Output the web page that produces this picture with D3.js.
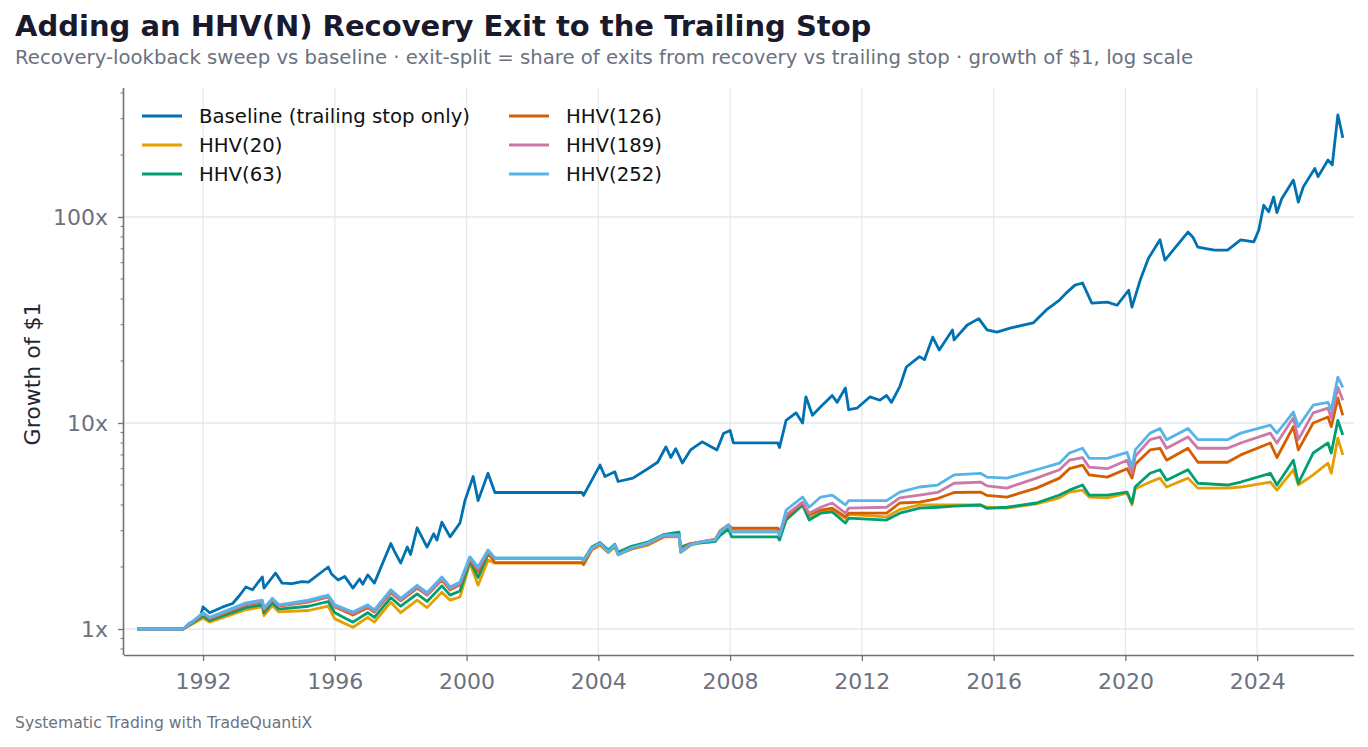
<!DOCTYPE html>
<html lang="en">
  <head>
    <meta charset="UTF-8" />
    <title>Adding an HHV(N) Recovery Exit to the Trailing Stop</title>
    <script src="https://d3js.org/d3.v7.min.js"></script>
    <style>
      html, body { margin: 0; padding: 0; background: #fff; }
      svg { display: block; font-family: "DejaVu Sans", sans-serif; }
    </style>
  </head>
  <body>
    <div id="chart"></div>
    <script>
      // Baseline : dates (années décimales) et croissance de 1 $
      const baseYears = [1990.0, 1991.4, 1991.6, 1991.9, 1992.0, 1992.2, 1992.6, 1992.9, 1993.1, 1993.3, 1993.5, 1993.8, 1993.85, 1994.2, 1994.4, 1994.7, 1995.0, 1995.2, 1995.8, 1995.9, 1996.1, 1996.3, 1996.55, 1996.75, 1996.85, 1997.0, 1997.2, 1997.7, 1997.8, 1998.0, 1998.2, 1998.3, 1998.5, 1998.8, 1999.0, 1999.1, 1999.25, 1999.5, 1999.8, 1999.95, 2000.2, 2000.35, 2000.65, 2000.86, 2003.5, 2003.55, 2004.05, 2004.2, 2004.5, 2004.6, 2005.05, 2005.5, 2005.8, 2006.05, 2006.2, 2006.35, 2006.55, 2006.8, 2007.15, 2007.6, 2007.8, 2008.0, 2008.1, 2009.45, 2009.5, 2009.7, 2010.0, 2010.2, 2010.3, 2010.5, 2010.75, 2011.1, 2011.25, 2011.5, 2011.6, 2011.85, 2012.25, 2012.55, 2012.75, 2012.9, 2013.15, 2013.35, 2013.75, 2013.9, 2014.15, 2014.35, 2014.75, 2014.8, 2015.2, 2015.55, 2015.8, 2016.1, 2016.5, 2017.2, 2017.6, 2018.0, 2018.2, 2018.47, 2018.7, 2018.98, 2019.45, 2019.75, 2020.1, 2020.2, 2020.45, 2020.7, 2021.05, 2021.2, 2021.45, 2021.9, 2022.05, 2022.2, 2022.7, 2023.1, 2023.5, 2023.9, 2024.05, 2024.2, 2024.35, 2024.5, 2024.6, 2024.75, 2025.1, 2025.25, 2025.4, 2025.75, 2025.85, 2026.15, 2026.28, 2026.45, 2026.55, 2026.6];
      const baseline = [1.0, 1.0, 1.07, 1.12, 1.28, 1.2, 1.28, 1.33, 1.45, 1.6, 1.55, 1.79, 1.58, 1.87, 1.67, 1.66, 1.7, 1.69, 2.0, 1.85, 1.73, 1.8, 1.58, 1.75, 1.65, 1.83, 1.67, 2.6, 2.4, 2.09, 2.5, 2.3, 3.1, 2.5, 2.9, 2.7, 3.3, 2.8, 3.27, 4.2, 5.5, 4.2, 5.7, 4.6, 4.6, 4.45, 6.25, 5.5, 5.8, 5.2, 5.4, 6.0, 6.45, 7.65, 6.8, 7.5, 6.4, 7.4, 8.1, 7.4, 8.9, 9.2, 8.0, 8.0, 7.6, 10.3, 11.2, 10.0, 13.4, 10.9, 12.0, 13.6, 12.6, 14.8, 11.6, 11.8, 13.4, 12.9, 13.6, 12.6, 15.0, 18.7, 21.0, 20.3, 26.1, 22.6, 28.3, 25.3, 29.9, 32.1, 28.3, 27.6, 28.9, 30.6, 35.4, 39.5, 42.7, 46.7, 47.8, 38.2, 38.6, 37.3, 44.1, 36.5, 49.4, 63, 77.5, 61.7, 69, 84.5, 79.8, 71.3, 69, 69, 77.5, 75.8, 86.5, 114, 106, 125, 105, 123, 151, 118, 140, 172, 157, 189, 179, 313, 265, 242];

      // Variantes HHV(N) : dates communes
      const hhvYears = [1990.0, 1991.4, 1992.0, 1992.2, 1993.3, 1993.8, 1993.85, 1994.1, 1994.3, 1995.2, 1995.8, 1996.0, 1996.55, 1997.0, 1997.2, 1997.7, 1998.0, 1998.5, 1998.8, 1999.25, 1999.5, 1999.8, 2000.1, 2000.35, 2000.65, 2000.86, 2003.5, 2003.55, 2003.8, 2004.05, 2004.3, 2004.5, 2004.6, 2005.0, 2005.5, 2006.0, 2006.45, 2006.5, 2006.8, 2007.1, 2007.55, 2007.7, 2007.95, 2008.05, 2009.45, 2009.5, 2009.7, 2010.2, 2010.4, 2010.75, 2011.1, 2011.5, 2011.6, 2012.75, 2013.15, 2013.75, 2014.3, 2014.8, 2015.6, 2015.8, 2016.4, 2017.3, 2018.0, 2018.3, 2018.7, 2018.9, 2019.45, 2020.05, 2020.2, 2020.3, 2020.75, 2021.05, 2021.25, 2021.9, 2022.2, 2023.1, 2023.5, 2024.4, 2024.6, 2025.1, 2025.25, 2025.7, 2026.15, 2026.25, 2026.45, 2026.6];
      const hhv20 = [1.0, 1.0, 1.13, 1.08, 1.24, 1.28, 1.16, 1.3, 1.21, 1.23, 1.29, 1.12, 1.02, 1.14, 1.08, 1.35, 1.2, 1.38, 1.27, 1.51, 1.38, 1.43, 2.09, 1.63, 2.16, 2.09, 2.09, 2.05, 2.42, 2.55, 2.35, 2.5, 2.3, 2.44, 2.55, 2.8, 2.8, 2.35, 2.55, 2.62, 2.68, 2.95, 3.15, 3.05, 3.05, 2.9, 3.45, 4.0, 3.5, 3.72, 3.78, 3.45, 3.6, 3.5, 3.8, 4.0, 4.0, 4.0, 4.0, 3.9, 3.86, 4.05, 4.33, 4.62, 4.72, 4.37, 4.33, 4.57, 4.0, 4.8, 5.17, 5.4, 4.89, 5.4, 4.83, 4.83, 4.89, 5.17, 4.72, 5.93, 5.0, 5.6, 6.38, 5.7, 8.45, 7.0];
      const hhv63 = [1.0, 1.0, 1.16, 1.1, 1.27, 1.31, 1.2, 1.34, 1.25, 1.29, 1.36, 1.2, 1.08, 1.2, 1.14, 1.42, 1.29, 1.48, 1.36, 1.62, 1.46, 1.53, 2.14, 1.78, 2.3, 2.21, 2.21, 2.16, 2.5, 2.63, 2.42, 2.58, 2.36, 2.52, 2.64, 2.88, 2.95, 2.5, 2.6, 2.62, 2.66, 2.85, 3.05, 2.8, 2.8, 2.7, 3.38, 4.0, 3.38, 3.65, 3.7, 3.27, 3.45, 3.38, 3.65, 3.86, 3.9, 3.95, 4.0, 3.85, 3.9, 4.09, 4.47, 4.72, 5.0, 4.47, 4.47, 4.62, 4.09, 4.9, 5.7, 5.93, 5.28, 5.93, 5.1, 5.0, 5.17, 5.7, 5.0, 6.6, 5.1, 7.15, 8.0, 7.15, 10.3, 8.75];
      const hhv126 = [1.0, 1.0, 1.18, 1.12, 1.31, 1.35, 1.24, 1.38, 1.29, 1.35, 1.43, 1.28, 1.17, 1.27, 1.21, 1.5, 1.37, 1.58, 1.46, 1.73, 1.55, 1.64, 2.18, 1.9, 2.34, 2.1, 2.1, 2.06, 2.44, 2.58, 2.36, 2.52, 2.3, 2.45, 2.58, 2.82, 2.84, 2.42, 2.6, 2.65, 2.72, 3.0, 3.2, 3.09, 3.09, 2.95, 3.5, 4.09, 3.6, 3.78, 3.86, 3.5, 3.65, 3.65, 4.09, 4.13, 4.3, 4.6, 4.62, 4.45, 4.37, 4.83, 5.4, 6.0, 6.25, 5.6, 5.46, 6.0, 5.4, 6.3, 7.4, 7.54, 6.6, 7.54, 6.45, 6.45, 7.0, 8.0, 6.8, 9.6, 7.4, 10.0, 10.7, 9.6, 13.2, 10.9];
      const hhv189 = [1.0, 1.0, 1.19, 1.13, 1.32, 1.36, 1.25, 1.39, 1.3, 1.36, 1.44, 1.29, 1.19, 1.29, 1.22, 1.52, 1.38, 1.6, 1.47, 1.75, 1.57, 1.66, 2.2, 1.95, 2.38, 2.2, 2.2, 2.14, 2.46, 2.6, 2.37, 2.55, 2.3, 2.47, 2.6, 2.84, 2.85, 2.4, 2.58, 2.65, 2.72, 2.98, 3.2, 2.96, 2.96, 2.85, 3.58, 4.13, 3.65, 3.9, 4.09, 3.65, 3.86, 3.9, 4.33, 4.47, 4.6, 5.1, 5.17, 4.95, 4.83, 5.4, 5.93, 6.6, 6.8, 6.1, 6.0, 6.6, 5.7, 6.9, 8.3, 8.55, 7.54, 8.55, 7.54, 7.54, 8.0, 8.93, 8.0, 10.6, 8.3, 11.2, 11.8, 10.6, 14.9, 12.9];
      const hhv252 = [1.0, 1.0, 1.2, 1.14, 1.34, 1.38, 1.26, 1.41, 1.31, 1.38, 1.46, 1.31, 1.21, 1.31, 1.24, 1.55, 1.41, 1.63, 1.5, 1.79, 1.6, 1.69, 2.24, 2.0, 2.42, 2.21, 2.21, 2.15, 2.47, 2.61, 2.36, 2.56, 2.29, 2.47, 2.61, 2.86, 2.86, 2.36, 2.56, 2.64, 2.7, 2.96, 3.2, 2.96, 2.96, 2.85, 3.78, 4.37, 3.9, 4.37, 4.47, 4.0, 4.2, 4.2, 4.62, 4.89, 5.0, 5.6, 5.7, 5.46, 5.4, 5.93, 6.38, 7.15, 7.54, 6.74, 6.74, 7.2, 6.1, 7.4, 8.93, 9.4, 8.3, 9.4, 8.3, 8.3, 8.93, 9.76, 8.93, 11.3, 9.6, 12.2, 12.6, 11.6, 16.7, 14.9];

      const seriesNames = ["Baseline (trailing stop only)", "HHV(20)", "HHV(63)", "HHV(126)", "HHV(189)", "HHV(252)"];
      const seriesColors = ["#0072B2", "#E69F00", "#009E73", "#D55E00", "#CC79A7", "#56B4E9"];
      const xTickYears = [1992, 1996, 2000, 2004, 2008, 2012, 2016, 2020, 2024];
      const yTickValues = [1, 10, 100];

      const width = 1368;
      const height = 747;
      const plot = { left: 124, right: 1354, top: 88, bottom: 655 };

      const series = [
        { years: baseYears, values: baseline },
        { years: hhvYears, values: hhv20 },
        { years: hhvYears, values: hhv63 },
        { years: hhvYears, values: hhv126 },
        { years: hhvYears, values: hhv189 },
        { years: hhvYears, values: hhv252 },
      ].map((s, i) => ({
        name: seriesNames[i],
        color: seriesColors[i],
        points: s.years.map((yr, j) => [yr, s.values[j]]),
      }));

      const svg = d3
        .select("#chart")
        .append("svg")
        .attr("width", width)
        .attr("height", height);

      const x = d3.scaleLinear().domain([1989.6, 2026.94]).range([plot.left, plot.right]);
      const y = d3.scaleLog().domain([0.748, 422.7]).range([plot.bottom, plot.top]);

      // Grille
      const grid = svg.append("g").attr("stroke", "#e5e7eb").attr("stroke-width", 1.3);
      grid
        .selectAll("line.vx")
        .data(xTickYears)
        .join("line")
        .attr("x1", (d) => x(d))
        .attr("x2", (d) => x(d))
        .attr("y1", plot.top)
        .attr("y2", plot.bottom);
      grid
        .selectAll("line.hy")
        .data(yTickValues)
        .join("line")
        .attr("x1", plot.left)
        .attr("x2", plot.right)
        .attr("y1", (d) => y(d))
        .attr("y2", (d) => y(d));

      // Courbes
      const line = d3
        .line()
        .x((d) => x(d[0]))
        .y((d) => y(d[1]));

      svg
        .append("g")
        .selectAll("path")
        .data(series)
        .join("path")
        .attr("d", (d) => line(d.points))
        .attr("fill", "none")
        .attr("stroke", (d) => d.color)
        .attr("stroke-width", 2.8)
        .attr("stroke-linejoin", "round");

      // Axes
      const axisColor = "#6b7280";
      const xAxis = svg
        .append("g")
        .attr("transform", `translate(0,${plot.bottom})`)
        .call(d3.axisBottom(x).tickValues(xTickYears).tickFormat(d3.format("d")).tickSize(6).tickPadding(12));
      const yAxis = svg
        .append("g")
        .attr("transform", `translate(${plot.left},0)`)
        .call(d3.axisLeft(y).tickValues(yTickValues).tickFormat((d) => d + "x").tickSize(6).tickPadding(10));

      [xAxis, yAxis].forEach((a) => {
        a.select(".domain").attr("stroke", axisColor).attr("stroke-width", 1.6);
        a.selectAll(".tick line").attr("stroke", axisColor).attr("stroke-width", 1.3);
        a.selectAll(".tick text")
          .attr("fill", axisColor)
          .style("font-size", "22px")
          .style("font-family", "DejaVu Sans");
      });
      xAxis.select(".domain").attr("d", `M${plot.left},0.5H${plot.right}`);
      yAxis.select(".domain").attr("d", `M-0.5,${plot.top}V${plot.bottom}`);

      // Graduations mineures
      const minorTicks = [];
      [0.1, 1, 10, 100].forEach((dec) => {
        d3.range(2, 10).forEach((k) => {
          const v = dec * k;
          if (v >= 0.748 && v <= 422.7) minorTicks.push(v);
        });
      });
      svg
        .append("g")
        .selectAll("line")
        .data(minorTicks)
        .join("line")
        .attr("x1", plot.left - 3.5)
        .attr("x2", plot.left)
        .attr("y1", (d) => y(d))
        .attr("y2", (d) => y(d))
        .attr("stroke", axisColor)
        .attr("stroke-width", 1);

      // Titre de l'axe Y
      svg
        .append("text")
        .attr("transform", `translate(40,374) rotate(-90)`)
        .attr("text-anchor", "middle")
        .attr("fill", "#1f2937")
        .style("font-size", "22px")
        .text("Growth of $1");

      // Titres
      svg
        .append("text")
        .attr("x", 15)
        .attr("y", 36)
        .attr("fill", "#1a1a2e")
        .style("font-size", "29px")
        .style("font-weight", "bold")
        .text("Adding an HHV(N) Recovery Exit to the Trailing Stop");
      svg
        .append("text")
        .attr("x", 15)
        .attr("y", 64)
        .attr("fill", "#6b7280")
        .style("font-size", "19.7px")
        .text("Recovery-lookback sweep vs baseline · exit-split = share of exits from recovery vs trailing stop · growth of $1, log scale");
      svg
        .append("text")
        .attr("x", 15)
        .attr("y", 728)
        .attr("fill", "#6b7280")
        .style("font-size", "15.6px")
        .text("Systematic Trading with TradeQuantiX");

      // Légende
      const legend = svg.append("g");
      const legendItems = legend
        .selectAll("g")
        .data(series)
        .join("g")
        .attr("transform", (d, i) => {
          const col = i < 3 ? 0 : 1;
          const row = i % 3;
          return `translate(${142 + col * 367},${116 + row * 29})`;
        });
      legendItems
        .append("line")
        .attr("x1", 0)
        .attr("x2", 40)
        .attr("stroke", (d) => d.color)
        .attr("stroke-width", 2.8);
      legendItems
        .append("text")
        .attr("x", 57)
        .attr("y", 7)
        .attr("fill", "#111")
        .style("font-size", "19.7px")
        .text((d) => d.name);
    </script>
  </body>
</html>
